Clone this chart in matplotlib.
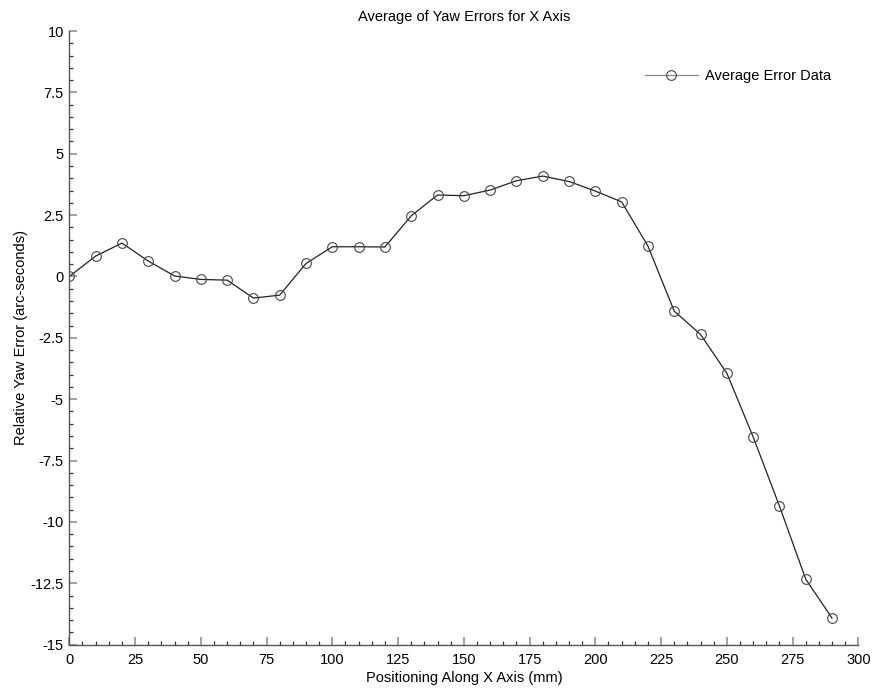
import matplotlib
matplotlib.use("Agg")
import matplotlib.pyplot as plt
from matplotlib.ticker import MultipleLocator, FuncFormatter

plt.rcParams['font.family'] = ['Liberation Sans', 'DejaVu Sans']

# Position along the X axis (mm) and averaged yaw error (arc-seconds)
position_mm = [0, 10, 20, 30, 40, 50, 60, 70, 80, 90, 100, 110, 120, 130, 140,
               150, 160, 170, 180, 190, 200, 210, 220, 230, 240, 250, 260, 270,
               280, 290]
yaw_error = [0.0, 0.83, 1.36, 0.63, 0.02, -0.12, -0.15, -0.88, -0.76, 0.53,
             1.21, 1.21, 1.20, 2.47, 3.32, 3.29, 3.52, 3.90, 4.09, 3.87, 3.48,
             3.04, 1.24, -1.41, -2.36, -3.94, -6.53, -9.35, -12.33, -13.92]

series_label = "Average Error Data"
title = "Average of Yaw Errors for X Axis"
xlabel = "Positioning Along X Axis (mm)"
ylabel = "Relative Yaw Error (arc-seconds)"

fig = plt.figure(figsize=(8.72, 6.91), dpi=100)
ax = fig.add_axes([0.0795, 0.0671, 0.9048, 0.888])

ax.plot(position_mm, yaw_error, color='#222222', linewidth=0.9,
        marker='o', markersize=7, markerfacecolor='none',
        markeredgecolor='#444444', markeredgewidth=0.8, label=series_label)

ax.set_xlim(0, 300)
ax.set_ylim(-15, 10)
ax.xaxis.set_major_locator(MultipleLocator(25))
ax.xaxis.set_minor_locator(MultipleLocator(5))
ax.yaxis.set_major_locator(MultipleLocator(2.5))
ax.yaxis.set_minor_locator(MultipleLocator(0.5))

fmt = FuncFormatter(lambda v, p: f"{v:g}")
ax.xaxis.set_major_formatter(fmt)
ax.yaxis.set_major_formatter(fmt)

for side in ('top', 'right'):
    ax.spines[side].set_visible(False)
for side in ('left', 'bottom'):
    ax.spines[side].set_color('#555555')
    ax.spines[side].set_linewidth(1.0)

ax.tick_params(which='major', direction='in', length=6, width=1.3,
               color='#9a9a9a', labelsize=10.5, labelcolor='black')
ax.tick_params(axis='y', which='major', pad=4)
ax.tick_params(axis='x', which='major', pad=6)
ax.tick_params(which='minor', direction='in', length=3, width=0.9,
               color='#333333')

ax.set_title(title, fontsize=10.5, pad=7)
ax.set_xlabel(xlabel, fontsize=10.5, labelpad=3)
ax.set_ylabel(ylabel, fontsize=10.5, labelpad=2)

leg = ax.legend(loc='upper right', bbox_to_anchor=(0.982, 0.96), frameon=False,
                fontsize=10.5, handlelength=3.6, handletextpad=0.5)
for h in leg.get_lines():
    h.set_color('#888888')

fig.savefig('out.png', dpi=100, facecolor='white')
